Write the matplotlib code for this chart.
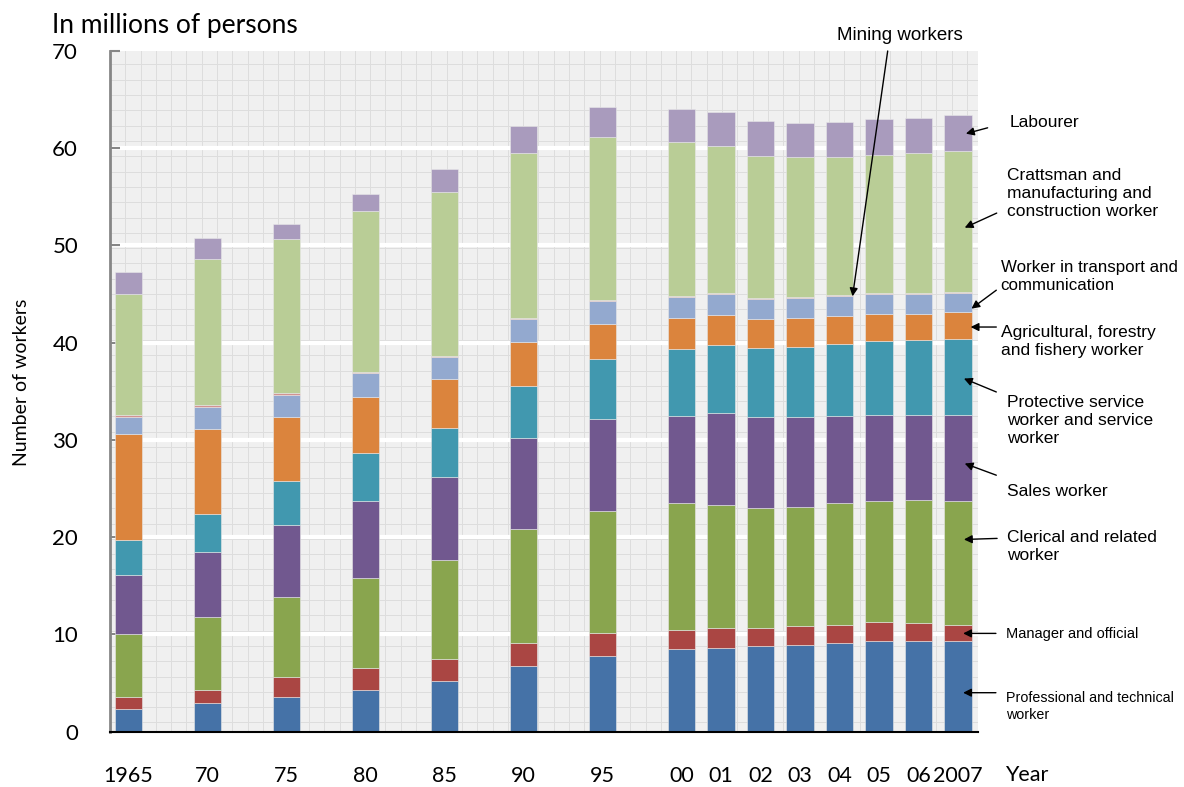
import numpy as np
import matplotlib
matplotlib.use("Agg")
import matplotlib.pyplot as plt

# categories (year labels) and slot positions (5-year steps take two slots)
years = ["1965", "70", "75", "80", "85", "90", "95",
         "00", "01", "02", "03", "04", "05", "06", "2007"]
slots = [0, 2, 4, 6, 8, 10, 12, 14, 15, 16, 17, 18, 19, 20, 21]

# millions of persons, bottom to top
professional = [2.29, 2.90, 3.56, 4.24, 5.23, 6.77, 7.77, 8.46, 8.56, 8.83, 8.93, 9.14, 9.28, 9.28, 9.28]
manager      = [1.24, 1.34, 2.05, 2.30, 2.20, 2.37, 2.40, 2.01, 2.06, 1.79, 1.95, 1.85, 1.95, 1.85, 1.71]
clerical     = [6.47, 7.57, 8.26, 9.28, 10.21, 11.68, 12.50, 12.99, 12.64, 12.39, 12.27, 12.47, 12.47, 12.70, 12.71]
sales        = [6.10, 6.62, 7.33, 7.85, 8.56, 9.38, 9.46, 9.01, 9.54, 9.36, 9.22, 9.01, 8.87, 8.74, 8.87]
service      = [3.56, 3.90, 4.56, 5.03, 5.03, 5.39, 6.24, 6.85, 6.97, 7.09, 7.19, 7.43, 7.57, 7.71, 7.81]
agriculture  = [10.99, 8.80, 6.64, 5.72, 5.04, 4.48, 3.52, 3.22, 3.12, 2.98, 3.02, 2.88, 2.85, 2.71, 2.77]
transport    = [1.71, 2.26, 2.27, 2.44, 2.23, 2.33, 2.36, 2.13, 2.11, 2.09, 2.05, 1.99, 2.06, 2.06, 2.00]
mining       = [0.20, 0.15, 0.15, 0.13, 0.10, 0.10, 0.10, 0.10, 0.10, 0.10, 0.08, 0.10, 0.06, 0.06, 0.06]
craftsman    = [12.40, 15.11, 15.87, 16.55, 16.89, 17.00, 16.84, 15.86, 15.12, 14.62, 14.35, 14.18, 14.16, 14.40, 14.46]
labourer     = [2.30, 2.16, 1.50, 1.71, 2.41, 2.74, 3.10, 3.43, 3.53, 3.57, 3.53, 3.67, 3.70, 3.63, 3.70]

series = [professional, manager, clerical, sales, service,
          agriculture, transport, mining, craftsman, labourer]
colors = ["#4572A7", "#AA4643", "#89A54E", "#71588F", "#4198AF",
          "#DB843D", "#93A9CF", "#D19392", "#B9CD96", "#A99BBD"]

narrow = ["Liberation Sans", "DejaVu Sans"]
plt.rcParams["font.family"] = ["Lato", "DejaVu Sans"]

fig = plt.figure(figsize=(11.84, 7.87), dpi=100)
ax = fig.add_axes([0.0929, 0.0704, 0.7329, 0.8648])
ax.set_facecolor("#F0F0F0")
ax.set_xlim(-0.47, 21.5)
ax.set_ylim(0, 70)

# background fine grid pattern (~15 px squares)
W, H = 867.7, 680.5
for px in np.arange(15.3, W, 15.3):
    ax.plot([px / W, px / W], [0, 1], color="#DDDDDD", lw=0.7, zorder=0.5,
            transform=ax.transAxes)
for py in np.arange(13.5, H, 15.3):
    ax.plot([0, 1], [1 - py / H, 1 - py / H], color="#DDDDDD", lw=0.7, zorder=0.5,
            transform=ax.transAxes)

# white major lines
for v in range(10, 70, 10):
    ax.axhline(v, color="white", lw=3, zorder=1)

bottom = np.zeros(len(years))
for vals, c in zip(series, colors):
    ax.bar(slots, vals, bottom=bottom, width=0.7, color=c, edgecolor="#E8E8E8",
           linewidth=0.4, zorder=2)
    bottom += np.array(vals)

ax.set_xticks(slots)
ax.set_xticklabels(years, fontsize=15.5)
ax.set_yticks(range(0, 80, 10))
ax.tick_params(axis="x", length=0, pad=25)
ax.tick_params(axis="y", direction="in", length=7, width=1.5, color="#868686",
               labelsize=16, pad=23)
for s in ["top", "right"]:
    ax.spines[s].set_visible(False)
ax.spines["left"].set_color("#868686")
ax.spines["left"].set_linewidth(2)
ax.spines["bottom"].set_color("black")
ax.spines["bottom"].set_linewidth(1.5)

fig.text(52 / 1184, 1 - 25 / 787, "In millions of persons", fontsize=19,
         ha="left", va="center")
fig.text(22 / 1184, 1 - 382 / 787, "Number of workers", fontsize=14,
         rotation=90, ha="center", va="center")
fig.text(1005 / 1184, 1 - 775 / 787, "Year", fontsize=15.5, ha="left", va="center")

# labels on the right with arrows pointing to the bars
labels = [
    ("Labourer", (22.31, 62.65), (21.75, 62.1), (21.2, 61.5), 12.5),
    ("Crattsman and\nmanufacturing and\nconstruction worker", (22.23, 55.35), (21.98, 53.33), (21.17, 51.83), 12.5),
    ("Worker in transport and\ncommunication", (22.08, 46.77), (21.97, 45.4), (21.34, 43.5), 12.2),
    ("Agricultural, forestry\nand fishery worker", (22.08, 40.09), (21.97, 41.61), (21.32, 41.61), 12.5),
    ("Protective service\nworker and service\nworker", (22.25, 32.02), (21.97, 34.93), (21.15, 36.31), 12.5),
    ("Sales worker", (22.23, 24.73), (21.97, 26.37), (21.17, 27.57), 12.5),
    ("Clerical and related\nworker", (22.23, 19.02), (21.99, 19.87), (21.15, 19.76), 12.5),
    ("Manager and official", (22.21, 10.03), (21.96, 10.1), (21.13, 10.1), 10.5),
    ("Professional and technical\nworker", (22.21, 2.58), (21.96, 4.0), (21.13, 4.0), 10.3),
]
for txt, pos, tail, tip, fs in labels:
    ax.text(pos[0], pos[1], txt, fontsize=fs, family=narrow, ha="left", va="center",
            linespacing=1.27, clip_on=False)
    ax.annotate("", xy=tip, xytext=tail, annotation_clip=False,
                arrowprops=dict(arrowstyle="-|>", color="black", lw=1, mutation_scale=12,
                                shrinkA=0, shrinkB=0))

ax.text(19.53, 71.59, "Mining workers", fontsize=13.5, family=narrow, ha="center",
        va="center", clip_on=False)
ax.annotate("", xy=(18.33, 44.77), xytext=(19.22, 70.0), annotation_clip=False,
            arrowprops=dict(arrowstyle="-|>", color="black", lw=1, mutation_scale=12,
                            shrinkA=0, shrinkB=0))

fig.savefig("out.png", dpi=100)
